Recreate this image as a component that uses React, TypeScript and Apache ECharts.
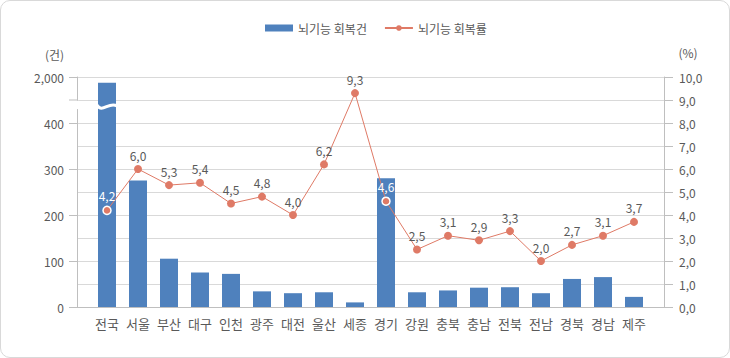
import React, { useEffect, useRef } from 'react';
import * as echarts from 'echarts';

const categories = ['전국', '서울', '부산', '대구', '인천', '광주', '대전', '울산', '세종', '경기', '강원', '충북', '충남', '전북', '전남', '경북', '경남', '제주'];
const recoveryCounts = [1800, 275, 105, 75, 72, 34, 30, 32, 10, 280, 32, 36, 42, 43, 30, 61, 65, 22];
const recoveryRates = [4.2, 6.0, 5.3, 5.4, 4.5, 4.8, 4.0, 6.2, 9.3, 4.6, 2.5, 3.1, 2.9, 3.3, 2.0, 2.7, 3.1, 3.7];
const leftTickLabels = ['0', '100', '200', '300', '400', '2,000'];
const highlightCats = ['전국', '경기'];
const seriesNames = ['뇌기능 회복건', '뇌기능 회복률'];

const BREAK_LOW = 400;
const BREAK_HIGH = 2000;
const AXIS_TOP = 500;
const toAxis = (v: number) =>
  v <= BREAK_LOW ? v : BREAK_LOW + ((v - BREAK_LOW) * (AXIS_TOP - BREAK_LOW)) / (BREAK_HIGH - BREAK_LOW);

const FONT = "'Noto Sans CJK KR', 'Noto Sans', sans-serif";
const TXT = '#595959';
const AXIS = '#bfbfbf';
const GRID = '#d9d9d9';
const BAR = '#4f81bd';
const LINE = '#df7a66';
const fmtPct = (v: number) => v.toFixed(1).replace('.', ',');

export default function App() {
  const ref = useRef<HTMLDivElement>(null);
  useEffect(() => {
    if (!ref.current) return;
    const chart = echarts.init(ref.current, undefined, { renderer: 'svg' });
    chart.setOption({
      animation: false,
      textStyle: { fontFamily: FONT },
      legend: {
        left: 265,
        top: 22,
        padding: 0,
        itemWidth: 28,
        itemHeight: 7,
        itemGap: 17,
        textStyle: { color: TXT, fontSize: 12, fontFamily: FONT },
        data: [{ name: seriesNames[0], icon: 'rect' }, { name: seriesNames[1] }],
      },
      grid: [
        { left: 77, right: 66, top: 77, height: 230 },
        { left: 91.5, right: 80.5, top: 77, height: 230 },
      ],
      xAxis: [
        {
          gridIndex: 0, type: 'value', min: 0, max: 1,
          axisLine: { show: true, onZero: false, lineStyle: { color: AXIS } },
          axisTick: { show: false }, axisLabel: { show: false }, splitLine: { show: false },
        },
        {
          gridIndex: 1, type: 'category', data: categories,
          axisLine: { show: false }, axisTick: { show: false },
          axisLabel: { color: TXT, fontSize: 13, margin: 10, fontFamily: FONT, interval: 0 },
        },
      ],
      yAxis: [
        {
          gridIndex: 0, type: 'value', min: 0, max: 500, interval: 100, position: 'left',
          axisLine: { show: true, lineStyle: { color: AXIS } },
          axisTick: { show: true, length: 8, lineStyle: { color: AXIS } },
          axisLabel: { color: TXT, fontSize: 12, margin: 13, fontFamily: FONT, formatter: (v: number) => leftTickLabels[Math.round(v / 100)] },
          splitLine: { show: false },
        },
        {
          gridIndex: 0, type: 'value', min: 0, max: 10, interval: 1, position: 'right',
          axisLine: { show: true, lineStyle: { color: AXIS } },
          axisTick: { show: true, length: 9, lineStyle: { color: AXIS } },
          axisLabel: { color: TXT, fontSize: 12, margin: 15, fontFamily: FONT, formatter: fmtPct },
          splitLine: { show: true, lineStyle: { color: GRID } },
        },
        { gridIndex: 1, type: 'value', min: 0, max: 500, show: false },
        { gridIndex: 1, type: 'value', min: 0, max: 10, show: false },
      ],
      series: [
        {
          name: seriesNames[0], type: 'bar', xAxisIndex: 1, yAxisIndex: 2,
          barWidth: 18, itemStyle: { color: BAR },
          data: recoveryCounts.map(toAxis),
        },
        {
          name: seriesNames[1], type: 'line', xAxisIndex: 1, yAxisIndex: 3,
          symbol: 'circle', symbolSize: 8,
          lineStyle: { color: LINE, width: 1 },
          itemStyle: { color: LINE },
          label: { show: true, position: 'top', distance: 4, color: TXT, fontSize: 12, fontFamily: FONT, formatter: (p: any) => fmtPct(p.value) },
          data: recoveryRates.map((v, i) =>
            highlightCats.includes(categories[i])
              ? { value: v, itemStyle: { color: LINE, borderColor: '#ffffff', borderWidth: 1.5 }, label: { color: '#ffffff' } }
              : v
          ),
        },
      ],
    });

    // axis break decorations, positioned through the chart's own scales
    const [axisX] = chart.convertToPixel({ xAxisIndex: 0, yAxisIndex: 0 }, [0, 450]);
    const y450 = chart.convertToPixel({ yAxisIndex: 0 }, 450) as number;
    const y432 = chart.convertToPixel({ yAxisIndex: 0 }, 432) as number;
    const bx = chart.convertToPixel({ xAxisIndex: 1 }, categories[0]) as number;
    const by = chart.convertToPixel({ yAxisIndex: 2 }, 437) as number;
    chart.setOption({
      graphic: [
        { type: 'rect', shape: { x: axisX - 2, y: y450 + 0.8, width: 4, height: y432 - y450 }, style: { fill: '#ffffff' }, z: 100 },
        { type: 'line', shape: { x1: axisX - 8, y1: y450, x2: axisX, y2: y450 }, style: { stroke: AXIS, lineWidth: 1 }, z: 101 },
        {
          type: 'bezierCurve',
          shape: { x1: bx - 10, y1: by - 1, cpx1: bx - 5, cpy1: by + 8, cpx2: bx + 2, cpy2: by - 5, x2: bx + 10, y2: by },
          style: { stroke: '#ffffff', lineWidth: 3, fill: 'none' }, z: 100,
        },
        { type: 'text', x: 54.5, y: 54, style: { text: '(건)', fill: TXT, font: `12px ${FONT}`, textAlign: 'center', textVerticalAlign: 'middle' } },
        { type: 'text', x: 688, y: 52, style: { text: '(%)', fill: TXT, font: `12px ${FONT}`, textAlign: 'center', textVerticalAlign: 'middle' } },
      ],
    });
    return () => chart.dispose();
  }, []);

  return (
    <div style={{ position: 'absolute', left: 0, top: 0, width: 730, height: 358, background: '#ffffff' }}>
      <div style={{ position: 'absolute', left: 0, top: 0, width: 730, height: 358, boxSizing: 'border-box', border: '1px solid #d9d9d9', borderRadius: 10 }} />
      <div ref={ref} style={{ position: 'absolute', left: 0, top: 0, width: 730, height: 358 }} />
    </div>
  );
}
